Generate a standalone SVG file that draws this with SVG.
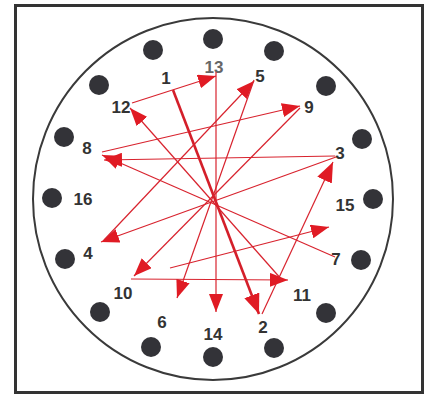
<svg xmlns="http://www.w3.org/2000/svg" width="429" height="399" viewBox="0 0 429 399">
<defs>
<style>
.frame{fill:#fff;stroke:#333;stroke-width:3}
.ring{fill:none;stroke:#3a3a3a;stroke-width:2}
.dot{fill:#333338}
.lbl{font-family:"Liberation Sans",Arial,sans-serif;font-weight:bold;font-size:17px;fill:#333;text-anchor:middle}
.lbl.light{fill:#666}
.c{fill:none;stroke:#d8232e;stroke-width:1.2}
.c.thick{stroke-width:2.6;stroke:#d41f2a}
</style>
<marker id="ah" markerUnits="userSpaceOnUse" viewBox="0 0 18 14" markerWidth="18" markerHeight="14" refX="18" refY="7" orient="auto">
<path d="M0,0 L18,7 L0,14 z" fill="#e01b24"/>
</marker>
<marker id="ahb" markerUnits="userSpaceOnUse" viewBox="0 0 20 16" markerWidth="20" markerHeight="16" refX="20" refY="8" orient="auto">
<path d="M0,0 L20,8 L0,16 z" fill="#e01b24"/>
</marker>
</defs>
<rect class="frame" x="15.5" y="5.5" width="407" height="387"/>
<ellipse class="ring" cx="213" cy="199" rx="180" ry="181"/>

<g id="slot-13"><circle class="dot" cx="213" cy="39" r="10"/><text class="lbl light" x="214" y="73">13</text></g>
<g id="slot-5"><circle class="dot" cx="274" cy="51" r="10"/><text class="lbl" x="260" y="82">5</text></g>
<g id="slot-9"><circle class="dot" cx="326" cy="86" r="10"/><text class="lbl" x="309" y="113">9</text></g>
<g id="slot-3"><circle class="dot" cx="362" cy="139" r="10"/><text class="lbl" x="340" y="159">3</text></g>
<g id="slot-15"><circle class="dot" cx="373" cy="199" r="10"/><text class="lbl" x="345" y="211">15</text></g>
<g id="slot-7"><circle class="dot" cx="361" cy="260" r="10"/><text class="lbl" x="336" y="265">7</text></g>
<g id="slot-11"><circle class="dot" cx="326" cy="313" r="10"/><text class="lbl" x="302" y="301">11</text></g>
<g id="slot-2"><circle class="dot" cx="274" cy="348" r="10"/><text class="lbl" x="263" y="333">2</text></g>
<g id="slot-14"><circle class="dot" cx="213" cy="357" r="10"/><text class="lbl" x="213" y="340">14</text></g>
<g id="slot-6"><circle class="dot" cx="151" cy="347" r="10"/><text class="lbl" x="162" y="328">6</text></g>
<g id="slot-10"><circle class="dot" cx="100" cy="312" r="10"/><text class="lbl" x="123" y="299">10</text></g>
<g id="slot-4"><circle class="dot" cx="65" cy="259" r="10"/><text class="lbl" x="88" y="259">4</text></g>
<g id="slot-16"><circle class="dot" cx="52" cy="198" r="10"/><text class="lbl" x="83" y="205">16</text></g>
<g id="slot-8"><circle class="dot" cx="64" cy="137" r="10"/><text class="lbl" x="87" y="154">8</text></g>
<g id="slot-12"><circle class="dot" cx="99" cy="85" r="10"/><text class="lbl" x="121" y="113">12</text></g>
<g id="slot-1"><circle class="dot" cx="153" cy="50" r="10"/><text class="lbl" x="166" y="84">1</text></g>

<g id="connectors">
<line class="c thick" x1="173" y1="90" x2="259" y2="314" marker-end="url(#ahb)"/>
<line class="c" x1="262" y1="314" x2="333" y2="162" marker-end="url(#ahb)"/>
<line class="c" x1="336" y1="157" x2="101" y2="242" marker-end="url(#ah)"/>
<line class="c" x1="104" y1="240" x2="254" y2="81" marker-end="url(#ah)"/>
<line class="c" x1="254" y1="80" x2="177" y2="298" marker-end="url(#ah)"/>
<line class="c" x1="170" y1="268" x2="329" y2="227" marker-end="url(#ah)"/>
<line class="c" x1="335" y1="257" x2="102" y2="155" marker-end="url(#ah)"/>
<line class="c" x1="102" y1="152" x2="300" y2="106" marker-end="url(#ah)"/>
<line class="c" x1="300" y1="108" x2="134" y2="276" marker-end="url(#ah)"/>
<line class="c" x1="131" y1="279" x2="288" y2="280" marker-end="url(#ah)"/>
<line class="c" x1="282" y1="280" x2="130" y2="108" marker-end="url(#ah)"/>
<line class="c" x1="132" y1="103" x2="216" y2="76" marker-end="url(#ah)"/>
<line class="c" x1="216" y1="72" x2="216" y2="312" marker-end="url(#ah)"/>
<line class="c" x1="335" y1="156" x2="104" y2="160" marker-end="url(#ah)"/>
</g>
</svg>
